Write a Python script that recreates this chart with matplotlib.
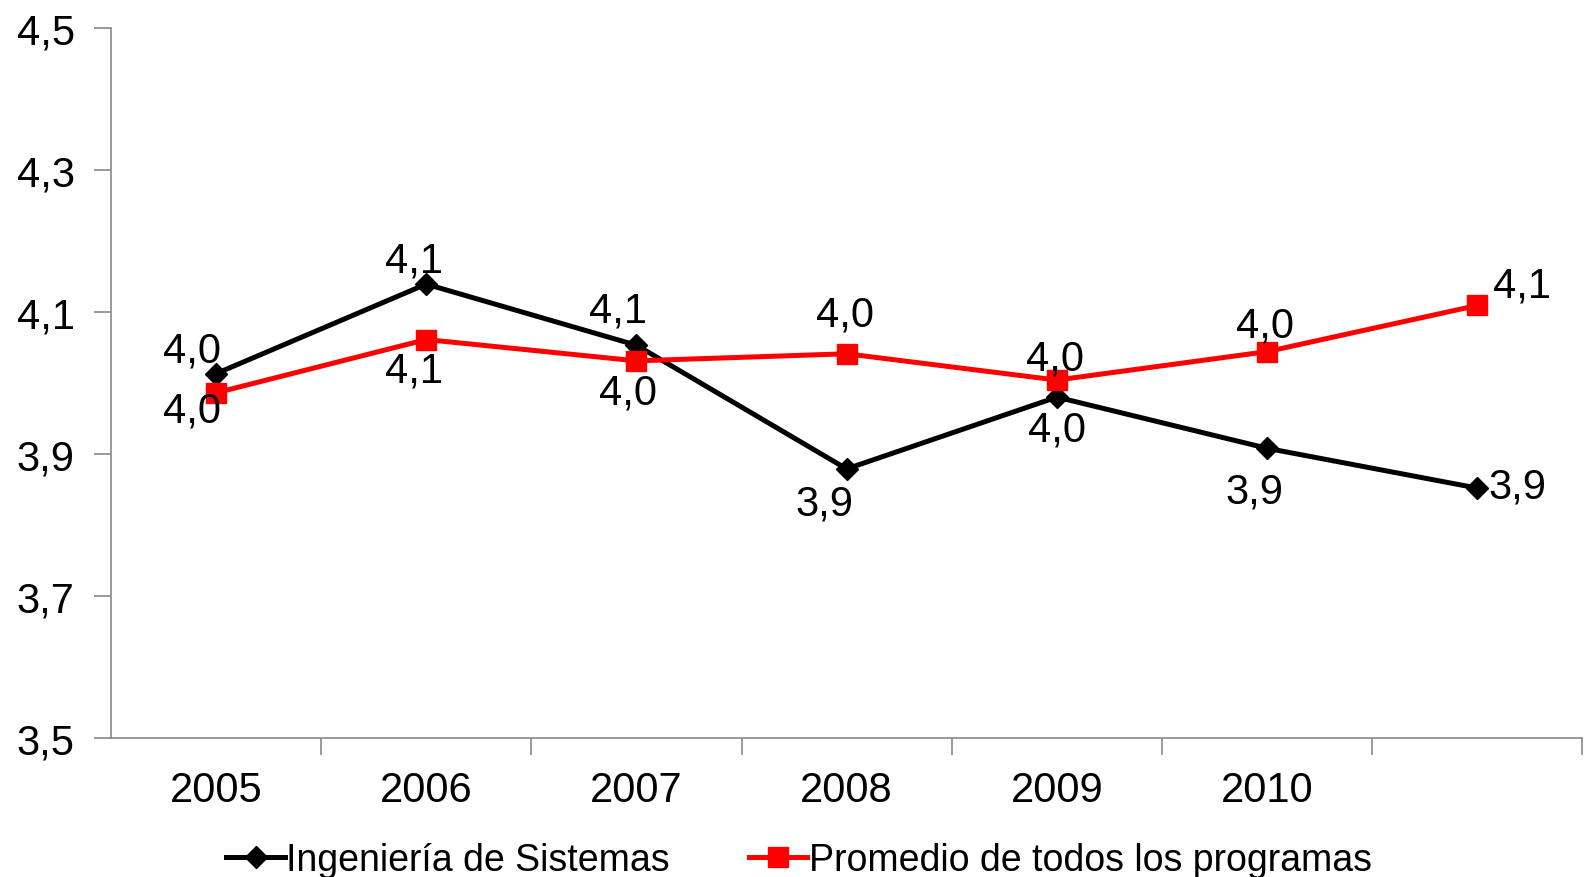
import numpy as np
import matplotlib.pyplot as plt
from matplotlib.ticker import FixedLocator, FuncFormatter

plt.rcParams['font.family'] = ['Liberation Sans', 'DejaVu Sans']

# Datos
anios = ['2005', '2006', '2007', '2008', '2009', '2010', '']
sistemas = [4.013, 4.139, 4.053, 3.879, 3.980, 3.908, 3.852]
promedio = [3.986, 4.061, 4.031, 4.041, 4.004, 4.044, 4.109]
nombres = ['Ingeniería de Sistemas', 'Promedio de todos los programas']

# Desplazamiento de etiquetas (pixeles)
off_sis = [(-24, 23), (-12, 24), (-18, 35), (-22, -35), (0, -32), (-13, -43), (40, 2)]
off_pro = [(-24, -18), (-12, -31), (-8, -32), (-2, 39), (-2, 22), (-2, 26), (45, 20)]

gris = '#898989'
fs = 30
fs_leg = 27

fig = plt.figure(figsize=(15.84, 8.78), dpi=100)
ax = fig.add_axes([0.070, 0.158, 0.929, 0.8095])

x = np.arange(len(anios))
ax.plot(x, sistemas, color='black', lw=3.6, marker='D', ms=11, label=nombres[0], zorder=3)
ax.plot(x, promedio, color='#ff0000', lw=3.6, marker='s', ms=15, label=nombres[1], zorder=3)

def fmt(v):
    return f"{v:.1f}".replace('.', ',')

for xi, v, o in zip(x, sistemas, off_sis):
    ax.annotate(fmt(v), (xi, v), xytext=(o[0] * 0.72, o[1] * 0.72), textcoords='offset points',
                ha='center', va='center', fontsize=fs)
for xi, v, o in zip(x, promedio, off_pro):
    ax.annotate(fmt(v), (xi, v), xytext=(o[0] * 0.72, o[1] * 0.72), textcoords='offset points',
                ha='center', va='center', fontsize=fs)

ax.set_xlim(-0.5, len(anios) - 0.5)
ax.set_ylim(3.5, 4.5)
ax.set_yticks(np.arange(3.5, 4.51, 0.2))
ax.yaxis.set_major_formatter(FuncFormatter(lambda v, p: fmt(v)))
ax.set_xticks(x)
ax.set_xticklabels(anios)
ax.xaxis.set_minor_locator(FixedLocator(np.arange(0.5, len(anios), 1.0)))
ax.tick_params(axis='x', which='major', length=0, pad=23, labelsize=fs)
ax.tick_params(axis='x', which='minor', length=12, color=gris, width=1.2)
ax.tick_params(axis='y', length=12, color=gris, width=1.2, pad=14, labelsize=fs)

for s in ['top', 'right']:
    ax.spines[s].set_visible(False)
for s in ['left', 'bottom']:
    ax.spines[s].set_color(gris)
    ax.spines[s].set_linewidth(1.2)

fig.legend(loc='center', bbox_to_anchor=(0.5045, 17 / 878), ncol=2, frameon=False,
           prop={'size': fs_leg}, handlelength=1.55, handletextpad=0.05,
           columnspacing=2.1, borderpad=0)

fig.savefig('out.png', dpi=100)
